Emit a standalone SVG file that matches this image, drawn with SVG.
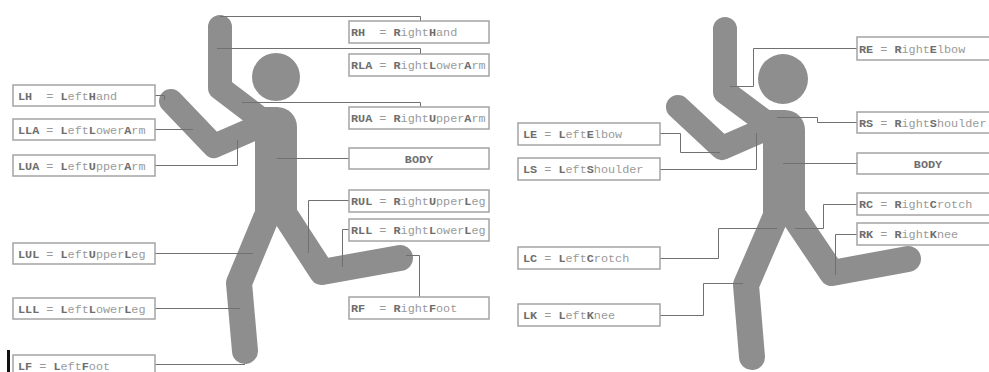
<svg xmlns="http://www.w3.org/2000/svg" width="989" height="372" viewBox="0 0 989 372">
  <style>
    .limb { fill: none; stroke: #8e8e8e; stroke-linecap: round; stroke-linejoin: round; }
    .arm { stroke-width: 24; }
    .leg { stroke-width: 26; }
    .solid { fill: #8e8e8e; }
    .box { fill: #ffffff; stroke: #a4a4a4; stroke-width: 1.5; }
    .lbl { font-family: "Liberation Mono", "DejaVu Sans Mono", monospace; font-size: 11.8px; fill: #9a9a9a; white-space: pre; }
    .lbl .k { font-weight: bold; fill: #6e6e6e; }
    .wire { fill: none; stroke: #707070; stroke-width: 1; }
  </style>

  <!-- running figure, joint naming -->
  <g id="figure-left">
    <circle class="solid" cx="276" cy="77" r="24"/>
    <path class="solid" d="M255,222 V107 H277 A20,20 0 0 1 297,127 V222 Z"/>
    <polyline class="limb arm" points="220,27 220,88 262,120"/>
    <polyline class="limb arm" points="171,101 214,146 260,126"/>
    <polyline class="limb leg" points="266,218 239,283 245,351"/>
    <polyline class="limb leg" points="287,218 322,272 400,258"/>
  </g>

  <!-- running figure, joint naming (second variant) -->
  <g id="figure-right">
    <circle class="solid" cx="783" cy="79" r="25"/>
    <path class="solid" d="M763,222 V110 H785 A20,20 0 0 1 805,130 V222 Z"/>
    <polyline class="limb arm" points="725,29 725,92 768,124"/>
    <polyline class="limb arm" points="678,107 722,148 768,128"/>
    <polyline class="limb leg" points="775,218 746,285 752,357"/>
    <polyline class="limb leg" points="795,218 832,273 908,259"/>
  </g>

  <g id="connectors">
    <!-- left figure -->
    <path class="wire" d="M220,16.5 H420.5 V21"/>
    <path class="wire" d="M217,48.5 H420.5 V54"/>
    <path class="wire" d="M242,102.5 H420.5 V107"/>
    <path class="wire" d="M277,158.5 H349"/>
    <path class="wire" d="M155,95.5 H164.5 V100"/>
    <path class="wire" d="M155,129.5 H193"/>
    <path class="wire" d="M155,165.5 H237.5 V140"/>
    <path class="wire" d="M155,253.5 H253"/>
    <path class="wire" d="M155,308.5 H240"/>
    <path class="wire" d="M155,364.5 H245"/>
    <path class="wire" d="M349,200.5 H308.5 V253"/>
    <path class="wire" d="M349,229.5 H342.5 V267"/>
    <path class="wire" d="M406,255.5 H419.5 V297"/>
    <!-- right figure -->
    <path class="wire" d="M857,48.5 H753.5 V86.5 H730"/>
    <path class="wire" d="M777,117.5 H817.5 V122.5 H857"/>
    <path class="wire" d="M783,163.5 H857"/>
    <path class="wire" d="M660,133.5 H680.5 V152.5 H720"/>
    <path class="wire" d="M660,169.5 H756.5 V133"/>
    <path class="wire" d="M660,258.5 H718.5 V228.5 H777"/>
    <path class="wire" d="M660,315.5 H703.5 V283.5 H743"/>
    <path class="wire" d="M857,204.5 H823.5 V228.5 H795"/>
    <path class="wire" d="M857,234.5 H835.5 V275"/>
  </g>

  <!-- labels: left figure, left column -->
  <g id="LH"><rect class="box" x="13" y="85" width="142" height="21"/><text class="lbl" x="18" y="99.5"><tspan class="k">LH</tspan>  = <tspan class="k">L</tspan>eft<tspan class="k">H</tspan>and</text></g>
  <g id="LLA"><rect class="box" x="13" y="119" width="142" height="21"/><text class="lbl" x="18" y="133.5"><tspan class="k">LLA</tspan> = <tspan class="k">L</tspan>eft<tspan class="k">L</tspan>ower<tspan class="k">A</tspan>rm</text></g>
  <g id="LUA"><rect class="box" x="13" y="155" width="142" height="21"/><text class="lbl" x="18" y="169.5"><tspan class="k">LUA</tspan> = <tspan class="k">L</tspan>eft<tspan class="k">U</tspan>pper<tspan class="k">A</tspan>rm</text></g>
  <g id="LUL"><rect class="box" x="13" y="243" width="142" height="21"/><text class="lbl" x="18" y="257.5"><tspan class="k">LUL</tspan> = <tspan class="k">L</tspan>eft<tspan class="k">U</tspan>pper<tspan class="k">L</tspan>eg</text></g>
  <g id="LLL"><rect class="box" x="13" y="298" width="142" height="21"/><text class="lbl" x="18" y="312.5"><tspan class="k">LLL</tspan> = <tspan class="k">L</tspan>eft<tspan class="k">L</tspan>ower<tspan class="k">L</tspan>eg</text></g>
  <g id="LF"><rect class="box" x="13" y="355" width="142" height="21"/><text class="lbl" x="18" y="369.5"><tspan class="k">LF</tspan> = <tspan class="k">L</tspan>eft<tspan class="k">F</tspan>oot</text></g>
  <rect x="7" y="350" width="3" height="22" fill="#111111"/>

  <!-- labels: left figure, right column -->
  <g id="RH"><rect class="box" x="349" y="21" width="140" height="22"/><text class="lbl" x="351" y="36"><tspan class="k">RH</tspan>  = <tspan class="k">R</tspan>ight<tspan class="k">H</tspan>and</text></g>
  <g id="RLA"><rect class="box" x="349" y="54" width="140" height="22"/><text class="lbl" x="351" y="69"><tspan class="k">RLA</tspan> = <tspan class="k">R</tspan>ight<tspan class="k">L</tspan>ower<tspan class="k">A</tspan>rm</text></g>
  <g id="RUA"><rect class="box" x="349" y="107" width="140" height="22"/><text class="lbl" x="351" y="122"><tspan class="k">RUA</tspan> = <tspan class="k">R</tspan>ight<tspan class="k">U</tspan>pper<tspan class="k">A</tspan>rm</text></g>
  <g id="BODY1"><rect class="box" x="349" y="148" width="140" height="21"/><text class="lbl" x="419" y="162.5" text-anchor="middle"><tspan class="k">BODY</tspan></text></g>
  <g id="RUL"><rect class="box" x="349" y="190" width="140" height="22"/><text class="lbl" x="351" y="205"><tspan class="k">RUL</tspan> = <tspan class="k">R</tspan>ight<tspan class="k">U</tspan>pper<tspan class="k">L</tspan>eg</text></g>
  <g id="RLL"><rect class="box" x="349" y="219" width="140" height="22"/><text class="lbl" x="351" y="234"><tspan class="k">RLL</tspan> = <tspan class="k">R</tspan>ight<tspan class="k">L</tspan>ower<tspan class="k">L</tspan>eg</text></g>
  <g id="RF"><rect class="box" x="349" y="297" width="140" height="22"/><text class="lbl" x="351" y="312"><tspan class="k">RF</tspan>  = <tspan class="k">R</tspan>ight<tspan class="k">F</tspan>oot</text></g>

  <!-- labels: right figure, left column -->
  <g id="LE"><rect class="box" x="518" y="123" width="142" height="22"/><text class="lbl" x="523" y="138"><tspan class="k">LE</tspan> = <tspan class="k">L</tspan>eft<tspan class="k">E</tspan>lbow</text></g>
  <g id="LS"><rect class="box" x="518" y="158" width="142" height="22"/><text class="lbl" x="523" y="173"><tspan class="k">LS</tspan> = <tspan class="k">L</tspan>eft<tspan class="k">S</tspan>houlder</text></g>
  <g id="LC"><rect class="box" x="518" y="247" width="142" height="22"/><text class="lbl" x="523" y="262"><tspan class="k">LC</tspan> = <tspan class="k">L</tspan>eft<tspan class="k">C</tspan>rotch</text></g>
  <g id="LK"><rect class="box" x="518" y="304" width="142" height="22"/><text class="lbl" x="523" y="319"><tspan class="k">LK</tspan> = <tspan class="k">L</tspan>eft<tspan class="k">K</tspan>nee</text></g>

  <!-- labels: right figure, right column -->
  <g id="RE"><rect class="box" x="857" y="37" width="142" height="23"/><text class="lbl" x="859" y="52.5"><tspan class="k">RE</tspan> = <tspan class="k">R</tspan>ight<tspan class="k">E</tspan>lbow</text></g>
  <g id="RS"><rect class="box" x="857" y="112" width="142" height="21"/><text class="lbl" x="859" y="126.5"><tspan class="k">RS</tspan> = <tspan class="k">R</tspan>ight<tspan class="k">S</tspan>houlder</text></g>
  <g id="BODY2"><rect class="box" x="857" y="153" width="142" height="21"/><text class="lbl" x="928" y="167.5" text-anchor="middle"><tspan class="k">BODY</tspan></text></g>
  <g id="RC"><rect class="box" x="857" y="193" width="142" height="22"/><text class="lbl" x="859" y="208"><tspan class="k">RC</tspan> = <tspan class="k">R</tspan>ight<tspan class="k">C</tspan>rotch</text></g>
  <g id="RK"><rect class="box" x="857" y="223" width="142" height="22"/><text class="lbl" x="859" y="238"><tspan class="k">RK</tspan> = <tspan class="k">R</tspan>ight<tspan class="k">K</tspan>nee</text></g>
</svg>
